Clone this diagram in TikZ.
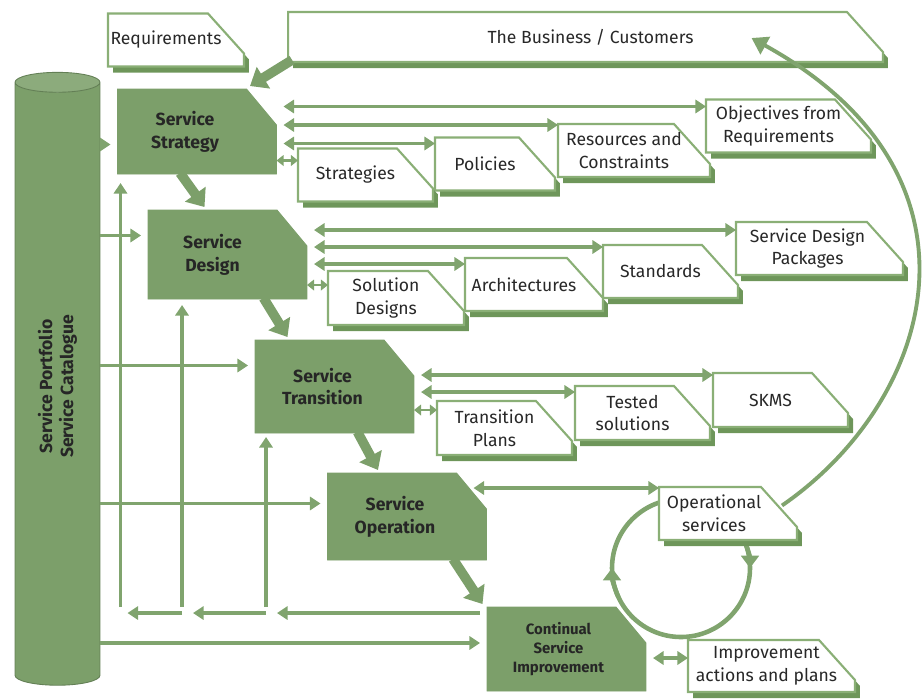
\documentclass[tikz,border=0pt]{standalone}
\usepackage{fontspec}
\setmainfont{Fira Sans}
\usetikzlibrary{shapes.geometric,shadows,arrows.meta,calc}

\definecolor{procgreen}{RGB}{124,159,106}
\definecolor{edgegreen}{RGB}{138,175,118}
\definecolor{shadegreen}{RGB}{110,150,90}
\definecolor{flowgreen}{RGB}{128,164,110}
\definecolor{inkgray}{RGB}{40,40,40}

% rectangle with its top right corner cut off; the text sits a little to the left
\makeatletter
\pgfkeys{/pgf/notch x/.initial=0.7cm, /pgf/notch y/.initial=0.8cm, /pgf/notch shift/.initial=0pt}
\pgfdeclareshape{notchbox}{%
  \savedanchor\northeast{%
    \pgf@x=\wd\pgfnodeparttextbox
    \pgfmathsetlength\pgf@xc{\pgfkeysvalueof{/pgf/inner xsep}}%
    \advance\pgf@x by 2\pgf@xc
    \pgfmathsetlength\pgf@xb{\pgfkeysvalueof{/pgf/minimum width}}%
    \ifdim\pgf@x<\pgf@xb \pgf@x=\pgf@xb \fi
    \pgf@x=.5\pgf@x
    \advance\pgf@x by .5\wd\pgfnodeparttextbox
    \pgfmathsetlength\pgf@xa{\pgfkeysvalueof{/pgf/outer xsep}}%
    \advance\pgf@x by \pgf@xa
    \pgfmathsetlength\pgf@xa{\pgfkeysvalueof{/pgf/notch shift}}%
    \advance\pgf@x by \pgf@xa
    \pgf@y=\ht\pgfnodeparttextbox
    \advance\pgf@y by \dp\pgfnodeparttextbox
    \pgfmathsetlength\pgf@yc{\pgfkeysvalueof{/pgf/inner ysep}}%
    \advance\pgf@y by 2\pgf@yc
    \pgfmathsetlength\pgf@yb{\pgfkeysvalueof{/pgf/minimum height}}%
    \ifdim\pgf@y<\pgf@yb \pgf@y=\pgf@yb \fi
    \pgf@y=.5\pgf@y
    \advance\pgf@y by -.5\dp\pgfnodeparttextbox
    \advance\pgf@y by .5\ht\pgfnodeparttextbox
    \pgfmathsetlength\pgf@ya{\pgfkeysvalueof{/pgf/outer ysep}}%
    \advance\pgf@y by \pgf@ya
  }%
  \savedanchor\southwest{%
    \pgf@x=\wd\pgfnodeparttextbox
    \pgfmathsetlength\pgf@xc{\pgfkeysvalueof{/pgf/inner xsep}}%
    \advance\pgf@x by 2\pgf@xc
    \pgfmathsetlength\pgf@xb{\pgfkeysvalueof{/pgf/minimum width}}%
    \ifdim\pgf@x<\pgf@xb \pgf@x=\pgf@xb \fi
    \pgf@x=-.5\pgf@x
    \advance\pgf@x by .5\wd\pgfnodeparttextbox
    \pgfmathsetlength\pgf@xa{\pgfkeysvalueof{/pgf/outer xsep}}%
    \advance\pgf@x by -\pgf@xa
    \pgfmathsetlength\pgf@xa{\pgfkeysvalueof{/pgf/notch shift}}%
    \advance\pgf@x by \pgf@xa
    \pgf@y=\ht\pgfnodeparttextbox
    \advance\pgf@y by \dp\pgfnodeparttextbox
    \pgfmathsetlength\pgf@yc{\pgfkeysvalueof{/pgf/inner ysep}}%
    \advance\pgf@y by 2\pgf@yc
    \pgfmathsetlength\pgf@yb{\pgfkeysvalueof{/pgf/minimum height}}%
    \ifdim\pgf@y<\pgf@yb \pgf@y=\pgf@yb \fi
    \pgf@y=-.5\pgf@y
    \advance\pgf@y by -.5\dp\pgfnodeparttextbox
    \advance\pgf@y by .5\ht\pgfnodeparttextbox
    \pgfmathsetlength\pgf@ya{\pgfkeysvalueof{/pgf/outer ysep}}%
    \advance\pgf@y by -\pgf@ya
  }%
  \inheritanchorborder[from=rectangle]%
  \inheritanchor[from=rectangle]{center}%
  \inheritanchor[from=rectangle]{north}%
  \inheritanchor[from=rectangle]{south}%
  \inheritanchor[from=rectangle]{east}%
  \inheritanchor[from=rectangle]{west}%
  \inheritanchor[from=rectangle]{north east}%
  \inheritanchor[from=rectangle]{north west}%
  \inheritanchor[from=rectangle]{south east}%
  \inheritanchor[from=rectangle]{south west}%
  \backgroundpath{%
    \southwest \pgf@xa=\pgf@x \pgf@ya=\pgf@y
    \northeast \pgf@xb=\pgf@x \pgf@yb=\pgf@y
    \pgfmathsetlength\pgf@xc{\pgfkeysvalueof{/pgf/outer xsep}}%
    \pgfmathsetlength\pgf@yc{\pgfkeysvalueof{/pgf/outer ysep}}%
    \advance\pgf@xa by\pgf@xc \advance\pgf@ya by\pgf@yc
    \advance\pgf@xb by-\pgf@xc \advance\pgf@yb by-\pgf@yc
    \pgfmathsetlength\pgfutil@tempdima{\pgfkeysvalueof{/pgf/notch x}}%
    \pgfmathsetlength\pgfutil@tempdimb{\pgfkeysvalueof{/pgf/notch y}}%
    \pgf@xc=\pgf@xb \advance\pgf@xc by-\pgfutil@tempdima
    \pgf@yc=\pgf@yb \advance\pgf@yc by-\pgfutil@tempdimb
    \pgfpathmoveto{\pgfqpoint{\pgf@xa}{\pgf@ya}}%
    \pgfpathlineto{\pgfqpoint{\pgf@xa}{\pgf@yb}}%
    \pgfpathlineto{\pgfqpoint{\pgf@xc}{\pgf@yb}}%
    \pgfpathlineto{\pgfqpoint{\pgf@xb}{\pgf@yc}}%
    \pgfpathlineto{\pgfqpoint{\pgf@xb}{\pgf@ya}}%
    \pgfpathclose
  }%
}
\makeatother

\tikzset{
  docbox/.style={notchbox, notch x=0.72cm, notch y=0.8cm, notch shift=0.2cm, outer sep=0pt,
    minimum width=2.72cm, minimum height=1.06cm,
    draw=edgegreen, line width=1.2pt, fill=white, text=inkgray, align=center,
    font=\fontsize{10}{13}\selectfont,
    drop shadow={shadow xshift=0.1cm, shadow yshift=-0.12cm, fill=shadegreen, opacity=1}},
  procbox/.style={notchbox, notch x=0.6cm, notch y=0.72cm, notch shift=0.24cm,
    outer xsep=0.14cm, outer ysep=0.06cm,
    minimum width=3.18cm, minimum height=1.76cm,
    fill=procgreen, draw=procgreen, line width=0.5pt, text=black!85, align=center,
    font=\bfseries\fontsize{10}{13}\selectfont},
  store/.style={cylinder, shape border rotate=90, aspect=1.7, minimum width=1.7cm, minimum height=12.26cm,
    cylinder uses custom fill, cylinder body fill=procgreen, cylinder end fill=procgreen!88!white,
    draw=procgreen!80!black, line width=0.5pt, outer sep=0pt},
  arr/.style={draw=flowgreen, line width=2pt, -{Triangle[length=6pt,width=7.5pt]}},
  dbl/.style={draw=flowgreen, line width=2pt, {Triangle[length=6pt,width=7.5pt]}-{Triangle[length=6pt,width=7.5pt]}},
  stub/.style={draw=flowgreen, line width=1.5pt, {Triangle[length=4pt,width=6pt]}-{Triangle[length=4pt,width=6pt]}},
  stage/.style={draw=procgreen, line width=5.5pt, -{Triangle[length=9pt,width=14pt]}},
  cycleline/.style={draw=flowgreen, line width=2.6pt},
}

\begin{document}
\begin{tikzpicture}[x=0.02cm,y=0.02cm]
\useasboundingbox (0,0) rectangle (922,-698);

% improvement cycle, sits behind the operational services box
\coordinate (loopc) at (681,-568);
\draw[cycleline] (loopc) circle (69);
\draw[cycleline, -{Triangle[length=7pt,width=10pt]}] ([shift={(205:69)}]loopc) arc (205:180:69);
\draw[cycleline, -{Triangle[length=7pt,width=10pt]}] ([shift={(25:69)}]loopc) arc (25:0:69);

\node[store] (port) at (57.5,-386.5) {};
\node[rotate=90, align=center, text=black!85, font=\bfseries\fontsize{10}{12}\selectfont] (portlabel) at (port.center) {Service Portfolio\\Service Catalogue};

\node[procbox, minimum height=1.7cm] (strat) at (197,-131.5) {Service\\Strategy};
\node[procbox, minimum height=1.78cm, notch shift=0.3cm] (design) at (227.5,-254.5) {Service\\Design};
\node[procbox, minimum height=1.86cm] (trans) at (334.5,-386.5) {Service\\Transition};
\node[procbox, minimum height=1.74cm] (oper) at (407,-516.5) {Service\\Operation};
\node[procbox, minimum height=1.68cm, notch shift=0.16cm, font=\bfseries\fontsize{8.5}{11}\selectfont] (csi) at (566.5,-649) {Continual\\Service\\Improvement};

\node[docbox] (req) at (176,-40) {Requirements};
\node[docbox, minimum width=11.9cm, minimum height=1cm, notch shift=-0.1cm] (biz) at (585.5,-37) {The Business / Customers};
\node[docbox, minimum width=3.3cm] (obj) at (788.5,-126) {Objectives from\\Requirements};
\node[docbox, minimum width=3.04cm] (res) at (634,-150.5) {Resources and\\Constraints};
\node[docbox, minimum width=2.4cm] (pol) at (495,-164) {Policies};
\node[docbox, minimum width=2.7cm] (strg) at (365.5,-175) {Strategies};
\node[docbox, minimum width=3.34cm, notch shift=0.24cm] (sdp) at (819.5,-248.5) {Service Design\\Packages};
\node[docbox, minimum width=2.7cm] (std) at (670.5,-271.5) {Standards};
\node[docbox, minimum width=2.76cm] (arch) at (534,-284.5) {Architectures};
\node[docbox, minimum height=1.08cm] (sol) at (396,-298) {Solution\\Designs};
\node[docbox, minimum width=2.7cm, minimum height=1.08cm] (skms) at (780.5,-400) {SKMS};
\node[docbox, minimum width=2.7cm, minimum height=1.08cm] (tested) at (642.5,-413) {Tested\\solutions};
\node[docbox, minimum width=2.7cm, minimum height=1.08cm] (tplans) at (504.5,-428) {Transition\\Plans};
\node[docbox, minimum width=2.76cm, notch shift=0.28cm] (opsvc) at (728,-513.5) {Operational\\services};
\node[docbox, minimum width=3.34cm, minimum height=1.04cm, notch shift=0.1cm] (impr) at (771.5,-666) {Improvement\\actions and plans};

% lifecycle stages
\draw[stage] ($(biz.south west)+(4,2)$) -- ($(strat.north)+(53,0)$);
\draw[stage] ($(strat.south)+(-17,4)$) -- ($(design.north)+(-23,0)$);
\draw[stage] ($(design.south)+(36,4)$) -- ($(trans.north)+(-47,0)$);
\draw[stage] ($(trans.south)+(23,4)$) -- ($(oper.north)+(-29,0)$);
\draw[stage] ($(oper.south)+(46,4)$) -- ($(csi.north)+(-84,0)$);

% strategy outputs
\draw[dbl] ($(strat.east |- obj.north west)+(0,-7)$) -- ($(obj.north west)+(0,-7)$);
\draw[dbl] ($(strat.east |- res.north west)+(0,-1)$) -- ($(res.north west)+(0,-1)$);
\draw[dbl] ($(strat.east |- pol.north west)+(0,-6)$) -- ($(pol.north west)+(0,-6)$);
\draw[stub] ($(strat.east |- strg.north west)+(-7,-12)$) -- ($(strg.north west)+(0,-12)$);

% design outputs
\draw[dbl] ($(design.east |- sdp.north west)+(0,-8)$) -- ($(sdp.north west)+(0,-8)$);
\draw[dbl] ($(design.east |- std.north west)+(0,-2)$) -- ($(std.north west)+(0,-2)$);
\draw[dbl] ($(design.east |- arch.north west)+(0,-6)$) -- ($(arch.north west)+(0,-6)$);
\draw[stub] ($(design.east |- sol.north west)+(-7,-14)$) -- ($(sol.north west)+(0,-14)$);

% transition outputs
\draw[dbl] ($(trans.east |- skms.north west)+(0,-2)$) -- ($(skms.north west)+(0,-2)$);
\draw[dbl] ($(trans.east |- tested.north west)+(0,-6)$) -- ($(tested.north west)+(0,-6)$);
\draw[stub] ($(trans.east |- tplans.north west)+(-7,-9)$) -- ($(tplans.north west)+(0,-9)$);

\draw[dbl] ($(oper.east |- opsvc.north west)+(-20,-1)$) -- ($(opsvc.north west)+(0,-1)$);
\draw[dbl] ($(csi.east |- impr.north west)+(0,-18)$) -- ($(impr.north west)+(0,-18)$);

% portfolio feeds every stage
\draw[arr] ($(port.east |- strat.west)+(0,-13)$) -- ($(strat.west)+(0,-13)$);
\draw[arr] ($(port.east |- design.west)+(0,19)$) -- ($(design.west)+(0,19)$);
\draw[arr] ($(port.east |- trans.west)+(0,21)$) -- ($(trans.west)+(0,21)$);
\draw[arr] ($(port.east |- oper.west)+(0,13)$) -- ($(oper.west)+(0,13)$);
\draw[arr] ($(port.east |- csi.west)+(0,6)$) -- ($(csi.west)+(0,6)$);

% feedback from improvement
\coordinate (u1) at ($(strat.south west)+(10,-6)$);
\coordinate (u2) at ($(design.south west)+(41,-3)$);
\coordinate (u3) at ($(trans.south west)+(18,-1)$);
\coordinate (fb) at ($(csi.west)+(0,36)$);
\draw[arr] ($(u1 |- fb)+(0,6)$) -- (u1);
\draw[arr] ($(u2 |- fb)+(0,6)$) -- (u2);
\draw[arr] ($(u3 |- fb)+(0,6)$) -- (u3);
\draw[arr] (fb) -- ($(u3 |- fb)+(11,0)$);
\draw[arr] (u3 |- fb) -- ($(u2 |- fb)+(11,0)$);
\draw[arr] (u2 |- fb) -- ($(u1 |- fb)+(7,0)$);

% operational services back to the business
\draw[arr, line width=2.2pt, -{Triangle[length=9pt,width=11pt]}] ($(opsvc.east)+(-15,8)$) .. controls (935,-400) and (1000,-175) .. ($(biz.center)+(166,-1)$);
\end{tikzpicture}
\end{document}
